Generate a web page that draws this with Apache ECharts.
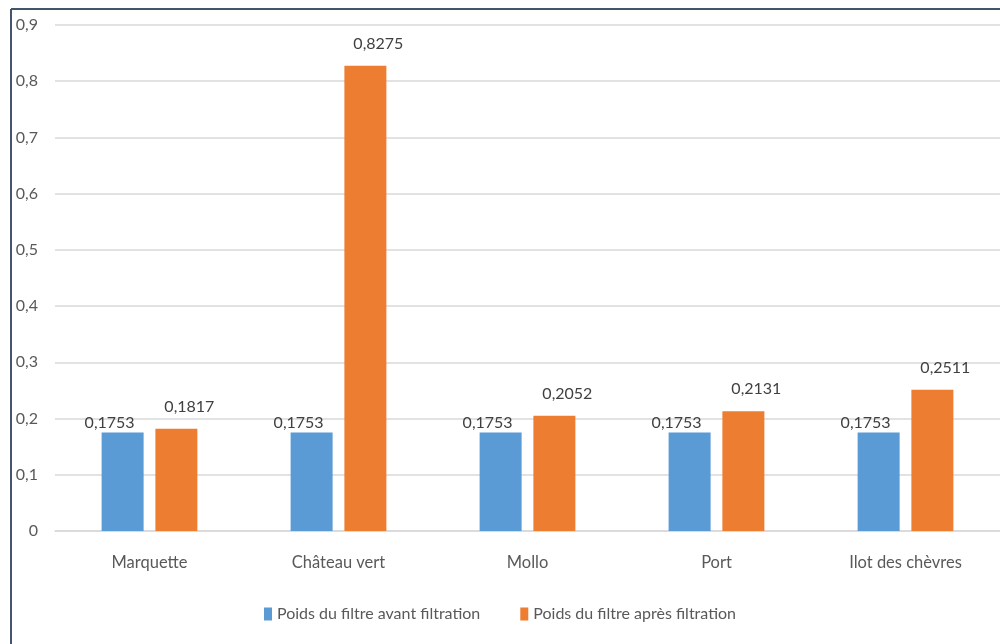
<!DOCTYPE html>
<html><head><meta charset="utf-8">
<script src="https://cdn.jsdelivr.net/npm/echarts@6/dist/echarts.min.js"></script>
<style>html,body{margin:0;padding:0;background:#fff}#c{width:1000px;height:644px}</style>
</head><body><div id="c"></div>
<script>
const categories = ["Marquette", "Château vert", "Mollo", "Port", "Ilot des chèvres"];
const avant = [0.1753, 0.1753, 0.1753, 0.1753, 0.1753];
const apres = [0.1817, 0.8275, 0.2052, 0.2131, 0.2511];
const seriesNames = ["Poids du filtre avant filtration", "Poids du filtre après filtration"];
const yMin = 0, yMax = 0.9, yStep = 0.1;

const FONT = "Lato, 'Open Sans', sans-serif";
const fmtVal = v => v.toFixed(4).replace('.', ',');
const chart = echarts.init(document.getElementById('c'));
chart.setOption({
  animation: false,
  backgroundColor: '#fff',
  textStyle: { fontFamily: FONT },
  graphic: [
    { type: 'line', shape: { x1: 11, y1: 9, x2: 1000, y2: 9 }, style: { stroke: '#44546a', lineWidth: 2 } },
    { type: 'line', shape: { x1: 11, y1: 9, x2: 11, y2: 644 }, style: { stroke: '#44546a', lineWidth: 2 } }
  ],
  grid: { left: 55, right: 0, top: 25, bottom: 113 },
  legend: {
    bottom: 17, left: 'center', itemWidth: 8, itemHeight: 13, itemGap: 40,
    icon: 'rect',
    textStyle: { fontFamily: FONT, fontSize: 16, color: '#595959' },
    data: seriesNames
  },
  xAxis: {
    type: 'category', data: categories,
    axisLine: { lineStyle: { color: '#d9d9d9', width: 1.5 } },
    axisTick: { show: false },
    axisLabel: { fontFamily: FONT, fontSize: 16.5, color: '#595959', margin: 23 }
  },
  yAxis: {
    type: 'value', min: yMin, max: yMax, interval: yStep,
    axisLine: { show: false }, axisTick: { show: false },
    splitLine: { lineStyle: { color: '#d9d9d9', width: 1.5 } },
    axisLabel: {
      fontFamily: FONT, fontSize: 16, color: '#595959', align: 'right', margin: 17,
      formatter: v => (Math.round(v * 10) / 10).toString().replace('.', ',')
    }
  },
  series: [
    {
      name: seriesNames[0], type: 'bar', data: avant, barWidth: 42, barGap: '28%',
      itemStyle: { color: '#5b9bd5' },
      label: { show: true, position: 'top', distance: 2, offset: [-13, 0], fontFamily: FONT, fontSize: 16, color: '#404040', formatter: p => fmtVal(p.value) }
    },
    {
      name: seriesNames[1], type: 'bar', data: apres, barWidth: 42,
      itemStyle: { color: '#ed7d31' },
      label: { show: true, position: 'top', distance: 14, offset: [13, 0], fontFamily: FONT, fontSize: 16, color: '#404040', formatter: p => fmtVal(p.value) }
    }
  ]
});
</script></body></html>
